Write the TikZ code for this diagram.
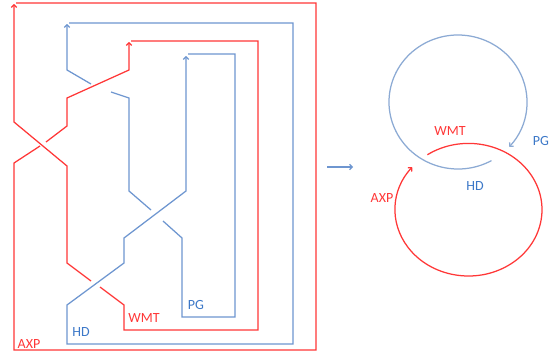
\documentclass[tikz,border=0pt]{standalone}
\usepackage{fontspec}
\setmainfont{Carlito}
\usetikzlibrary{arrows.meta}
\definecolor{kred}{RGB}{255,55,55}
\definecolor{kblue}{RGB}{110,150,208}
\definecolor{cblue}{RGB}{140,170,212}
\definecolor{lblue}{RGB}{60,120,200}
\begin{document}
\begin{tikzpicture}[x=1pt,y=-1pt,
  redline/.style={draw=kred,line width=1.25pt,line join=miter},
  blueline/.style={draw=kblue,line width=1.25pt,line join=miter},
  tip/.style={-{Straight Barb[length=2.6pt,width=5.5pt]}},
  lab/.style={inner sep=0pt,font=\fontsize{14}{14}\selectfont}]
\useasboundingbox[fill=white] (0,0) rectangle (557,362);
% ---- left: closed braid ----
% red (AXP / WMT)
\path[redline] (16,3) -- (316,3) -- (316,350) -- (14,350) -- (14,163) -- (40,146);
\path[redline,tip] (46,142) -- (67,126) -- (67,98) -- (129,70) -- (129,42);
\path[redline] (131,41) -- (258,41) -- (258,330) -- (124,330) -- (124,305) -- (100,287);
\path[redline,tip] (91,281) -- (67,263) -- (67,166) -- (14,122) -- (14,4);
% blue (HD / PG)
\path[blueline,tip] (69,23) -- (293,23) -- (293,344) -- (67,344) -- (67,305) -- (124,263) -- (124,238) -- (186,191) -- (186,56);
\path[blueline] (188,54) -- (235,54) -- (235,317) -- (182,317) -- (182,238) -- (163,221);
\path[blueline] (151,210) -- (129,191) -- (129,98) -- (111,92);
\path[blueline,tip] (91,84) -- (67,70) -- (67,24);
% labels left
\node[lab,text=kred] (axpL) at (29,344) {AXP};
\node[lab,text=lblue] (hdL) at (81,332) {HD};
\node[lab,text=kred] (wmtL) at (144,318) {WMT};
\node[lab,text=lblue] (pgL) at (196,305) {PG};
% ---- arrow ----
\coordinate (aS) at (327,167);
\coordinate (aE) at (353,167);
\draw[blueline,tip] (aS) -- (aE);
% ---- right: two circles ----
\path[blueline,draw=cblue,tip] (458,102) ++(61:69 and 67) arc[start angle=61,end angle=402,x radius=69,y radius=67];
\path[redline,tip] (468.5,209.7) ++(236:73.5 and 66.3) arc[start angle=236,end angle=580,x radius=73.5,y radius=66.3];
\node[lab,text=kred] (wmtR) at (450,131) {WMT};
\node[lab,text=lblue] (pgR) at (541,141) {PG};
\node[lab,text=lblue] (hdR) at (475,186) {HD};
\node[lab,text=kred] (axpR) at (382,198) {AXP};
\end{tikzpicture}
\end{document}
